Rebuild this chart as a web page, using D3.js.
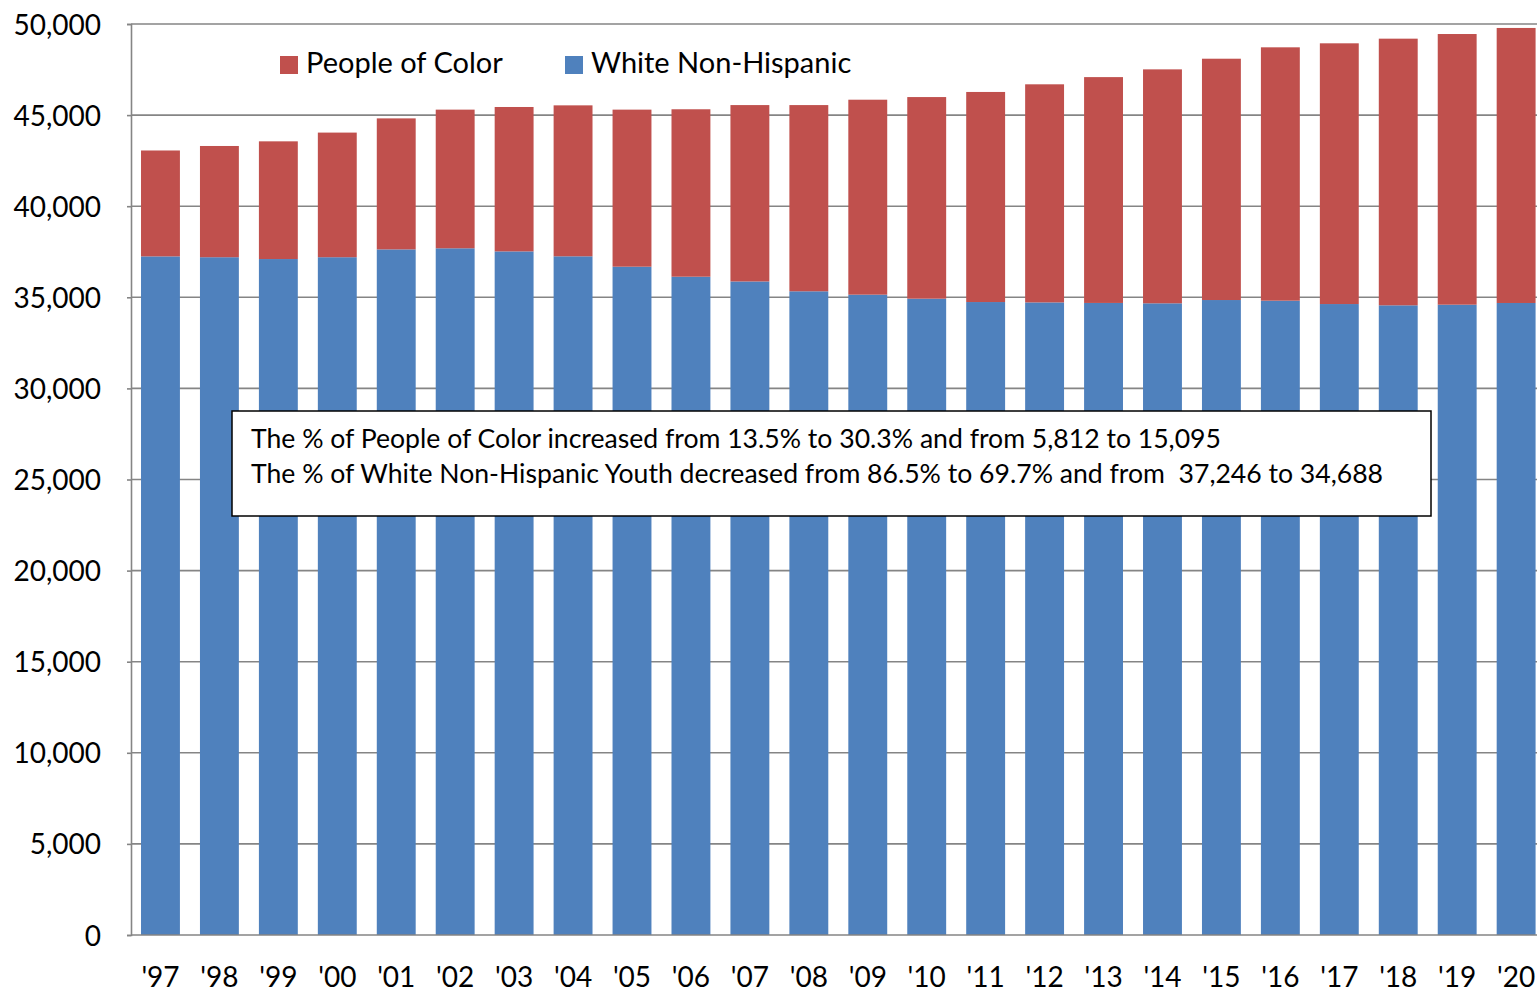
<!DOCTYPE html>
<html>
<head>
<meta charset="utf-8">
<script src="https://cdn.jsdelivr.net/npm/d3@7"></script>
<style>
  html, body { margin: 0; padding: 0; background: #fff; overflow: hidden; }
  svg { display: block; }
  text { font-family: Lato, "Open Sans", sans-serif; fill: #000; }
</style>
</head>
<body>
<svg id="chart" width="1537" height="992"></svg>
<script>
const years = ["'97","'98","'99","'00","'01","'02","'03","'04","'05","'06","'07","'08",
               "'09","'10","'11","'12","'13","'14","'15","'16","'17","'18","'19","'20"];
const whiteNonHispanic = [37246, 37200, 37100, 37200, 37630, 37690, 37520, 37250, 36680, 36130, 35870, 35330,
                          35145, 34925, 34740, 34720, 34690, 34670, 34850, 34815, 34630, 34560, 34595, 34688];
const peopleOfColor = [5812, 6105, 6460, 6840, 7190, 7610, 7925, 8285, 8620, 9190, 9680, 10220,
                       10700, 11065, 11530, 11970, 12395, 12840, 13245, 13905, 14310, 14635, 14855, 15095];
const yTicks = [0, 5000, 10000, 15000, 20000, 25000, 30000, 35000, 40000, 45000, 50000];
const seriesNames = ["White Non-Hispanic", "People of Color"];
const legendOrder = ["People of Color", "White Non-Hispanic"];
const colors = { "People of Color": "#C0504D", "White Non-Hispanic": "#4F81BD" };
const noteLines = [
  "The % of People of Color increased from 13.5% to 30.3% and from 5,812 to 15,095",
  "The % of White Non-Hispanic Youth decreased from 86.5% to 69.7% and from  37,246 to 34,688"
];

(function () {
const svg = d3.select("#chart");
const pLeft = 131, pTop = 24, pBottom = 935, pRight = 1545.6;

const rows = years.map((yr, i) => ({ year: yr, "White Non-Hispanic": whiteNonHispanic[i], "People of Color": peopleOfColor[i] }));
const stacked = d3.stack().keys(seriesNames)(rows);

const x = d3.scaleBand().domain(years).range([pLeft, pRight]).paddingInner(0.34).paddingOuter(0.17);
const y = d3.scaleLinear().domain([0, 50000]).range([pBottom, pTop]);

// gridlines
svg.append("g").selectAll("line").data(yTicks.filter(d => d > 0)).join("line")
  .attr("x1", pLeft).attr("x2", 1537)
  .attr("y1", d => y(d)).attr("y2", d => y(d))
  .attr("stroke", "#858585").attr("stroke-width", 1.6);

// bars
svg.append("g").selectAll("g").data(stacked).join("g")
  .attr("fill", d => colors[d.key])
  .selectAll("rect").data(d => d).join("rect")
  .attr("x", d => x(d.data.year))
  .attr("width", x.bandwidth())
  .attr("y", d => y(d[1]))
  .attr("height", d => y(d[0]) - y(d[1]));

// y axis
const yAxis = d3.axisLeft(y).tickValues(yTicks).tickSize(4).tickPadding(26)
  .tickFormat(d3.format(","));
const ya = svg.append("g").attr("transform", `translate(${pLeft},0)`).call(yAxis);
ya.select(".domain").attr("stroke", "#858585").attr("stroke-width", 1.6);
ya.selectAll(".tick line").attr("stroke", "#858585").attr("stroke-width", 1.6);
ya.selectAll(".tick text").attr("font-size", 28).attr("font-family", "Lato").attr("fill", "#000").attr("dy", "0.36em");

// x axis
const xAxis = d3.axisBottom(x).tickSize(0).tickPadding(0);
const xa = svg.append("g").attr("transform", `translate(0,${pBottom})`).call(xAxis);
xa.select(".domain").attr("stroke", "#858585").attr("stroke-width", 1.6).attr("d", `M${pLeft},0H1537`);
xa.selectAll(".tick text").attr("font-size", 28).attr("font-family", "Lato").attr("fill", "#000")
  .attr("y", 52).attr("dy", 0);

// legend
const legendPos = { "People of Color": 280, "White Non-Hispanic": 565 };
const lg = svg.append("g").selectAll("g").data(legendOrder).join("g")
  .attr("transform", d => `translate(${legendPos[d]},56)`);
lg.append("rect").attr("width", 18).attr("height", 18).attr("fill", d => colors[d]);
lg.append("text").attr("x", 26).attr("y", 17).attr("font-size", 29).text(d => d);

// annotation box
const note = svg.append("g");
note.append("rect").attr("x", 232).attr("y", 411).attr("width", 1199).attr("height", 105)
  .attr("fill", "#fff").attr("stroke", "#000").attr("stroke-width", 1.5);
note.selectAll("text").data(noteLines).join("text")
  .attr("x", 251).attr("y", (d, i) => 448 + i * 35)
  .attr("font-size", 26.6).attr("xml:space", "preserve").style("white-space", "pre")
  .text(d => d);
})();
</script>
</body>
</html>
